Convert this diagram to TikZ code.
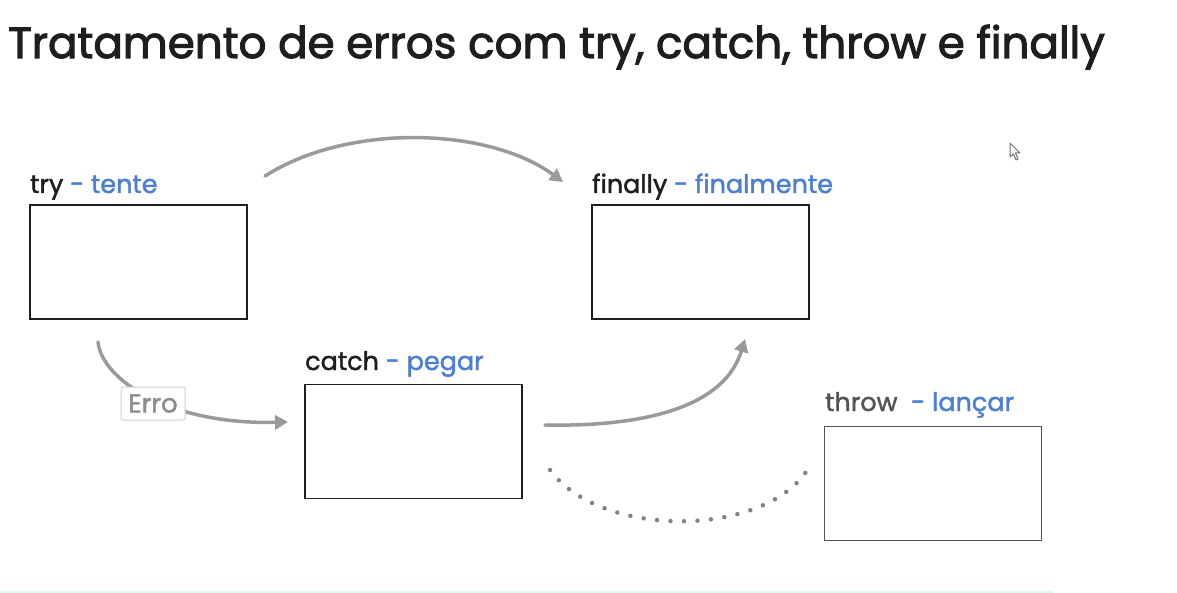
\documentclass[tikz,border=0pt]{standalone}
\usepackage{fontspec}
\setmainfont{Poppins}[FakeBold=1.6]
\newfontfamily\titlefont{Poppins}[FakeBold=2.4]
\usetikzlibrary{arrows.meta}
\definecolor{ink}{HTML}{1E1E1E}
\definecolor{lblue}{HTML}{4A7FD4}
\definecolor{arrowgray}{HTML}{9A9A9A}
\definecolor{throwgray}{HTML}{555555}
\definecolor{strip}{HTML}{E2F5F5}
\tikzset{
  box/.style={draw=ink, line width=1.8pt, minimum width=217pt, minimum height=114pt, inner sep=0pt},
  lbl/.style={anchor=base west, inner sep=0pt, text=ink, font=\fontsize{25.5}{30}\selectfont},
  flow/.style={draw=arrowgray, line width=3.5pt, line cap=round, -{Triangle[length=13pt,width=14pt]}},
  dotline/.style={draw=arrowgray!85!black, line width=4.5pt, line cap=round, dash pattern=on 0pt off 13.5pt},
}
\begin{document}
\begin{tikzpicture}[x=1pt,y=-1pt]
\useasboundingbox (0,0) rectangle (1177,593);
\fill[white] (0,0) rectangle (1177,593);
\fill[strip] (0,591) rectangle (1053,593);

\node[anchor=base west, inner sep=0pt, text=ink, font=\titlefont\fontsize{43.6}{50}\selectfont] (title) at (8,58) {Tratamento de erros com try, catch, throw e finally};

% boxes
\node[box] (try) at (138.5,262) {};
\node[box] (finally) at (700.5,262) {};
\node[box] (catch) at (413.5,441.5) {};
\node[box, draw=throwgray] (throw) at (933,483.5) {};

% labels
\node[lbl] (trylbl) at (30,193) {try \textcolor{lblue}{- tente}};
\node[lbl] (finlbl) at (592,193) {finally \textcolor{lblue}{- finalmente}};
\node[lbl] (catlbl) at (305,370) {catch \textcolor{lblue}{- pegar}};
\node[lbl, text=throwgray] (thrlbl) at (825,411) {throw \ \textcolor{lblue}{- lançar}};

% connector end points
\coordinate (a1s) at (265,176);
\coordinate (a1e) at (563,182);
\coordinate (a2s) at (98,342);
\coordinate (a2e) at (288,422);
\coordinate (a3s) at (545,425);
\coordinate (a3e) at (745,339);
\coordinate (d1s) at (550,470);
\coordinate (d1e) at (806,472);

\draw[flow] (a1s) .. controls (350,122) and (490,128) .. (a1e);
\draw[flow] (a2s) .. controls (102,380) and (170,425) .. (a2e);
\draw[flow] (a3s) .. controls (650,427) and (725,405) .. (a3e);
\draw[dotline] (d1s) .. controls (600,538) and (760,538) .. (d1e);

\node[draw=black!18, line width=1pt, rounded corners=2pt, fill=white, text=black!45, inner sep=1pt, minimum width=64pt, minimum height=33pt, font=\fontsize{26}{30}\selectfont] (erro) at (153,403.5) {Erro};

% mouse cursor
\draw[black!55, line width=1pt, line join=round] (1010,143) -- (1010,157) -- (1013.5,154) -- (1016,160) -- (1018,159) -- (1015.5,153) -- (1020,153) -- cycle;
\end{tikzpicture}
\end{document}
